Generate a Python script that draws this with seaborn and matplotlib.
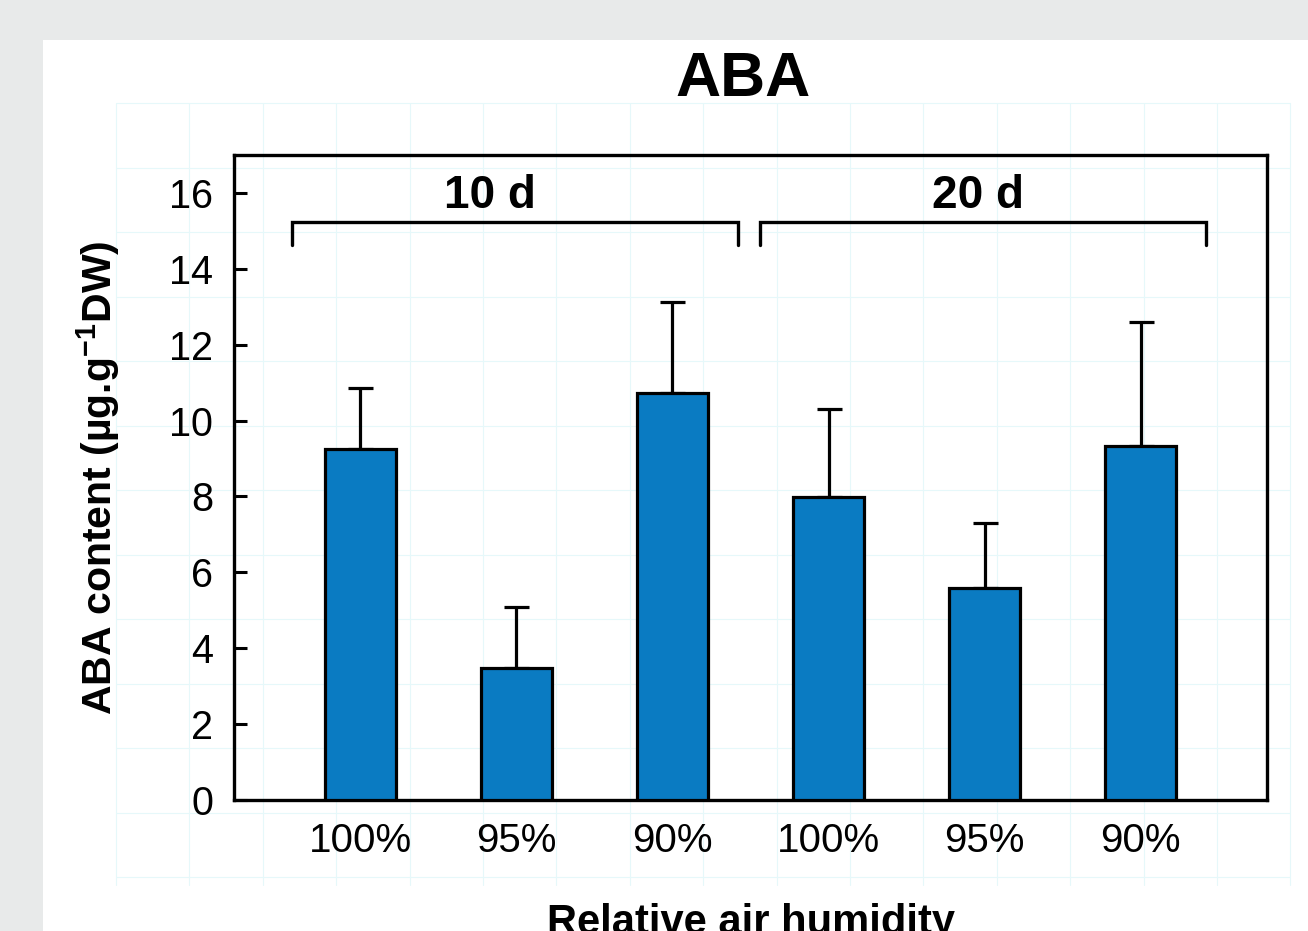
import numpy as np
import pandas as pd
import matplotlib
matplotlib.use("Agg")
import matplotlib.pyplot as plt
from matplotlib.patches import Rectangle
import seaborn as sns

# data
humidity = ["100%", "95%", "90%", "100%", "95%", "90%"]
days = ["10 d", "10 d", "10 d", "20 d", "20 d", "20 d"]
aba = [9.25, 3.47, 10.73, 7.98, 5.6, 9.33]
aba_err = [1.6, 1.63, 2.4, 2.32, 1.7, 3.27]
group_labels = ["10 d", "20 d"]

df = pd.DataFrame({"cond": [f"{d} {h}" for d, h in zip(days, humidity)],
                   "humidity": humidity, "days": days, "aba": aba, "err": aba_err})

sns.set_theme(style="white")
plt.rcParams["font.family"] = ["Liberation Sans", "DejaVu Sans"]
plt.rcParams["mathtext.default"] = "regular"
plt.rcParams["text.color"] = "black"
plt.rcParams["axes.labelcolor"] = "black"

fig = plt.figure(figsize=(13.08, 9.31), dpi=100)
fig.patch.set_facecolor("#e8eaea")
W, H = 1308, 931
# white page panel
fig.patches.append(Rectangle((43 / W, 0), 1, 1 - 40 / H, transform=fig.transFigure,
                             facecolor="white", edgecolor="none", zorder=-2))

# faint spreadsheet grid behind the chart
bg = fig.add_axes([0, 0, 1, 1], zorder=-1)
bg.set_xlim(0, W)
bg.set_ylim(H, 0)
bg.axis("off")
for gx in np.arange(116, 1295, 73.4):
    bg.plot([gx, gx], [103, 885], color="#e6f8fa", lw=0.8)
for gy in np.arange(103, 890, 64.5):
    bg.plot([116, 1290], [gy, gy], color="#e6f8fa", lw=0.8)

ax = fig.add_axes([234 / W, 1 - 800 / H, (1267 - 234) / W, (800 - 155) / H])
ax.patch.set_alpha(0)

sns.barplot(data=df, x="cond", y="aba", ax=ax, color="#0a7bc2", saturation=1,
            width=0.46, edgecolor="black", linewidth=2.3, errorbar=None, zorder=3)
xpos = np.arange(len(df))
ax.errorbar(xpos, df["aba"], yerr=[np.zeros(len(df)), df["err"]], fmt="none",
            ecolor="black", elinewidth=2.3, capsize=9, capthick=2.3, zorder=2)

ax.set_xlim(-0.81, len(df) - 1 + 0.81)
ax.set_ylim(0, 17)
ax.set_yticks(range(0, 17, 2))
ax.set_xticks(xpos)
ax.set_xticklabels(humidity)
ax.tick_params(axis="y", direction="in", length=9, width=2.2, labelsize=28.5, pad=15,
               colors="black", left=True)
ax.tick_params(axis="x", length=0, labelsize=29, pad=16, colors="black")
ax.set_xlabel("")
ax.set_ylabel("ABA content (µg.g$^{-1}$DW)", fontsize=29.5, fontweight="bold",
              labelpad=34)
for s in ax.spines.values():
    s.set_visible(True)
    s.set_color("black")
    s.set_linewidth(2.4)

# group brackets
lab_x = [0.83, 3.96]
for i, g in enumerate(group_labels):
    idx = np.where(df["days"] == g)[0]
    x0, x1 = idx[0] - 0.44, idx[-1] + 0.42
    ax.plot([x0, x0, x1, x1], [14.63, 15.23, 15.23, 14.63], color="black", lw=2.4,
            solid_joinstyle="miter", clip_on=False)
    ax.text(lab_x[i], 15.6, g, ha="center", va="baseline", fontsize=33,
            fontweight="bold")

fig.text(743 / W, 1 - 80 / H, "ABA", ha="center", va="center", fontsize=45,
         fontweight="bold")
fig.text(751 / W, -0.003, "Relative air humidity", ha="center", va="baseline",
         fontsize=30, fontweight="bold")

fig.savefig("out.png", dpi=100)
